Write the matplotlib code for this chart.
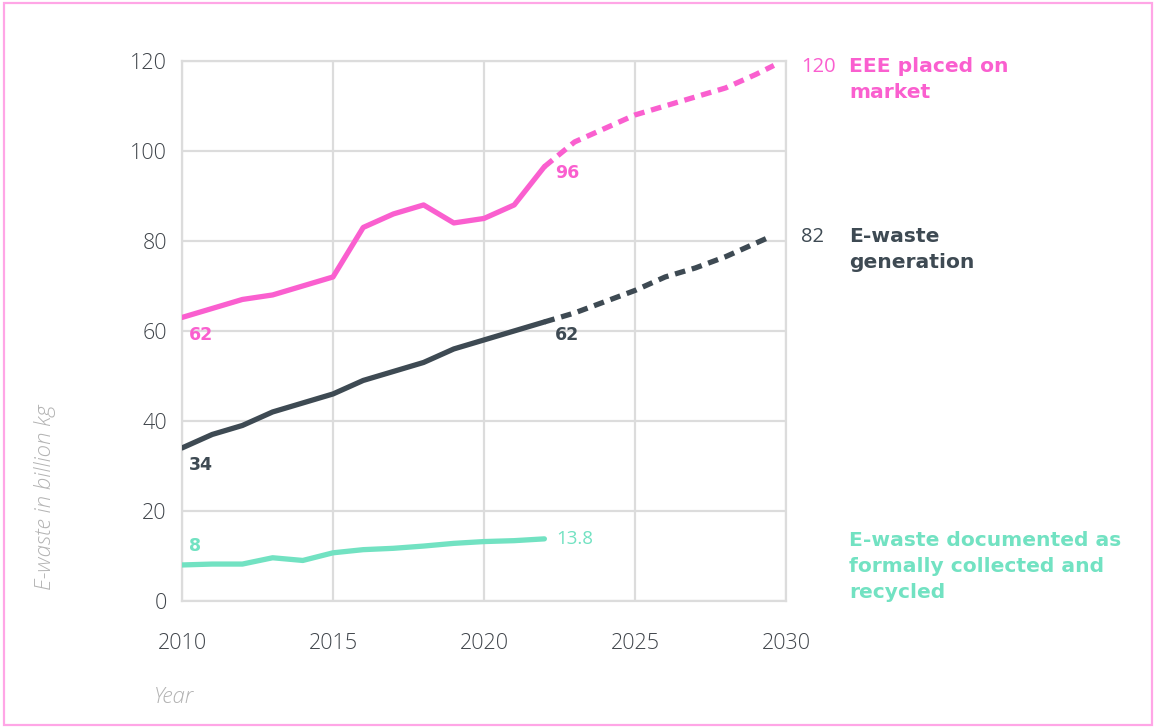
import matplotlib
matplotlib.use("Agg")
import matplotlib.pyplot as plt
import matplotlib.patches as patches

plt.rcParams['font.family'] = ['Open Sans', 'DejaVu Sans']

# EEE placed on market (solid = observed, dashed = projection)
eee_years = [2010, 2011, 2012, 2013, 2014, 2015, 2016, 2017, 2018, 2019, 2020, 2021, 2022]
eee_vals = [63, 65, 67, 68, 70, 72, 83, 86, 88, 84, 85, 88, 96.5]
eee_proj_years = [2022, 2023, 2024, 2025, 2026, 2027, 2028, 2029, 2029.6]
eee_proj_vals = [96.5, 102, 105, 108, 110, 112, 114, 117, 119]

# E-waste generation
gen_years = [2010, 2011, 2012, 2013, 2014, 2015, 2016, 2017, 2018, 2019, 2020, 2021, 2022]
gen_vals = [34, 37, 39, 42, 44, 46, 49, 51, 53, 56, 58, 60, 62]
gen_proj_years = [2022, 2023, 2024, 2025, 2026, 2027, 2028, 2029, 2029.5]
gen_proj_vals = [62, 64, 66.5, 69, 72, 74, 76.5, 79.5, 81]

# documented as collected and recycled
rec_years = [2010, 2011, 2012, 2013, 2014, 2015, 2016, 2017, 2018, 2019, 2020, 2021, 2022]
rec_vals = [8, 8.2, 8.2, 9.6, 9, 10.7, 11.4, 11.7, 12.2, 12.8, 13.2, 13.4, 13.8]

xticks = [2010, 2015, 2020, 2025, 2030]
yticks = [0, 20, 40, 60, 80, 100, 120]

pink = "#fa5fcf"
dark = "#3e4a53"
teal = "#72e2c2"
gridc = "#dcdcdc"
boldfont = ['DejaVu Sans']

fig = plt.figure(figsize=(11.55, 7.28), dpi=100)
ax = fig.add_axes([0.1576, 0.1745, 0.5229, 0.7418])

lw = 3.8
ax.plot(eee_years, eee_vals, color=pink, lw=lw, solid_capstyle="round", zorder=3)
ax.plot(eee_proj_years, eee_proj_vals, color=pink, lw=lw, dashes=(2.0, 1.3),
        dash_capstyle="butt", zorder=3)
ax.plot(gen_years, gen_vals, color=dark, lw=lw, solid_capstyle="round", zorder=3)
ax.plot(gen_proj_years, gen_proj_vals, color=dark, lw=lw, dashes=(2.0, 1.3),
        dash_capstyle="butt", zorder=3)
ax.plot(rec_years, rec_vals, color=teal, lw=lw, solid_capstyle="round", zorder=3)

ax.set_xlim(2010, 2030)
ax.set_ylim(0, 120)
ax.set_xticks(xticks)
ax.set_yticks(yticks)
ax.grid(True, color=gridc, lw=1.6)
ax.set_axisbelow(True)
for s in ax.spines.values():
    s.set_color(gridc)
    s.set_linewidth(1.6)
ax.tick_params(length=0, labelsize=15.5, labelcolor="#40454b")
ax.tick_params(axis="x", pad=23)
ax.tick_params(axis="y", pad=11)
for t in ax.get_xticklabels() + ax.get_yticklabels():
    t.set_fontweight("light")

# value labels on the lines
vfs = 12.5
ax.text(2010.23, 59.1, "62", color=pink, fontsize=vfs, fontweight="bold", va="center", family=boldfont)
ax.text(2010.23, 30.2, "34", color=dark, fontsize=vfs, fontweight="bold", va="center", family=boldfont)
ax.text(2010.23, 12.2, "8", color=teal, fontsize=vfs, fontweight="bold", va="center", family=boldfont)
ax.text(2022.35, 95.1, "96", color=pink, fontsize=vfs, fontweight="bold", va="center", family=boldfont)
ax.text(2022.35, 59.1, "62", color=dark, fontsize=vfs, fontweight="bold", va="center", family=boldfont)
ax.text(2022.4, 13.8, "13.8", color=teal, fontsize=13.5, va="center")


# series labels on the right, one text per line so the first line sits on the number
def side_label(y, lines, color, number=None):
    if number is not None:
        ax.text(2030.5, y, number, color=color, fontsize=14.5, fontweight="normal",
                va="baseline", clip_on=False)
    for i, line in enumerate(lines):
        ax.annotate(line, (2032.1, y), xytext=(0, -18.7 * i), textcoords="offset points",
                    color=color, fontsize=14.6, fontweight="bold", family=boldfont,
                    va="baseline", annotation_clip=False)


side_label(117.6, ["EEE placed on", "market"], pink, "120")
side_label(79.8, ["E-waste", "generation"], dark, "82")
side_label(12.2, ["E-waste documented as", "formally collected and", "recycled"], teal)

fig.text(45 / 1155, 1 - 497 / 728, "E-waste in billion kg", rotation=90, color="#b3b3b3",
         fontsize=16, style="italic", fontweight="light", ha="center", va="center")
fig.text(154 / 1155, 1 - 697 / 728, "Year", color="#b3b3b3", fontsize=16, style="italic",
         fontweight="light", ha="left", va="center")

border = patches.Rectangle((4 / 1155, 3 / 728), 1148 / 1155, 722 / 728, transform=fig.transFigure,
                           fill=False, edgecolor="#ffa6e6", lw=1.6)
fig.patches.append(border)

fig.savefig("out.png", dpi=100)
